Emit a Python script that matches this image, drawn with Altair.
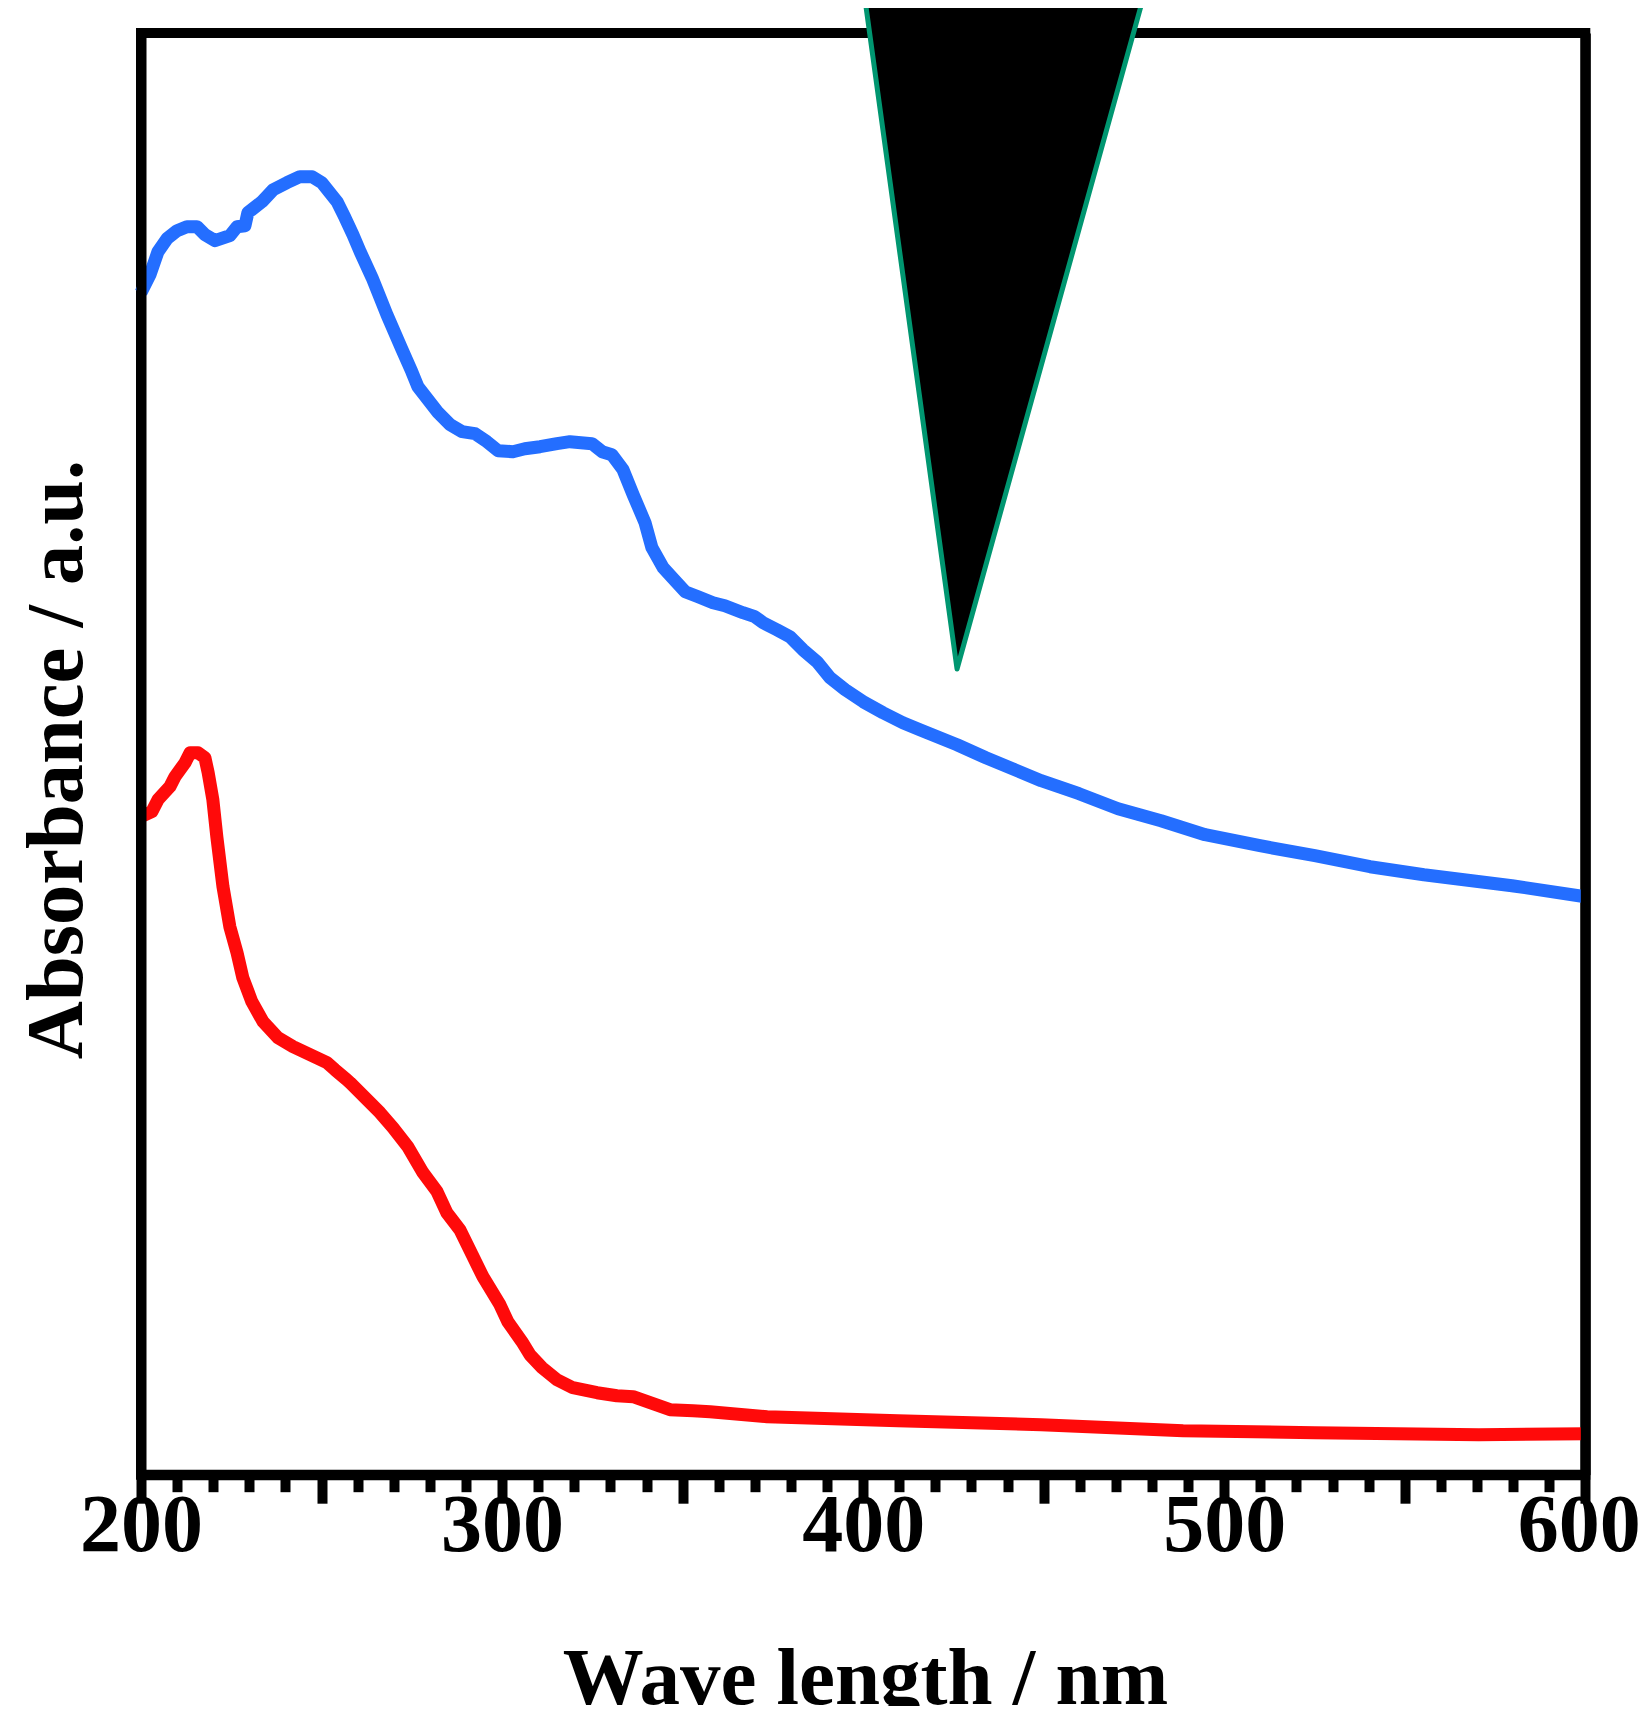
import altair as alt
import pandas as pd

blue_nm = [200, 202.5, 204.7, 207.2, 210, 212.7, 215.5, 217.7, 220.5, 224.6, 226.6, 228.8, 229.6, 233.5, 236.6,
           240.4, 244, 247.4, 250.1, 254.3, 256.5, 258.7, 260.7, 264, 268.1, 272.3, 275, 276.7, 279.5, 282.3,
           285.6, 288.9, 292.5, 295.8, 298.9, 303, 306.3, 310.5, 315.2, 318.8, 324.9, 327.7, 330.4, 333.5, 336.3,
           339.6, 341.5, 344.6, 348.4, 350.7, 354.3, 358.4, 361.7, 366.7, 370, 372.3, 376.1, 379.7, 383.3, 387.2,
           390.8, 395, 400, 405.5, 411, 415.7, 426, 434, 449.3, 459.8, 470.6, 482.5, 494.7, 509.9, 525.1,
           540.4, 555.3, 579.7, 600]
blue_abs = [1182, 1200, 1223, 1236, 1244, 1248, 1248, 1240, 1234, 1239, 1248, 1249, 1262, 1273, 1285,
            1292, 1298, 1298, 1292, 1273, 1257, 1240, 1223, 1197, 1160, 1125, 1103, 1088, 1075, 1062,
            1050, 1043, 1041, 1033, 1024, 1023, 1026, 1028, 1031, 1033, 1031, 1023, 1020, 1005, 980,
            952, 927, 907, 892, 883, 878, 872, 869, 862, 858, 852, 845, 838, 825, 813,
            797, 785, 773, 762, 752, 745, 730, 717, 694, 681, 666, 654, 640, 629, 619,
            608, 600, 589, 578]

red_nm = [200, 203, 204.7, 208, 209.4, 212.2, 213.6, 215.8, 217.7, 218.6, 219.9, 221, 222.7, 224.6, 226.6,
          228.2, 230.7, 233.8, 237.9, 242.1, 246.8, 251.5, 253.7, 257, 257.9, 262.6, 266.2, 269.8, 273.9, 278.1,
          282, 284.7, 288.3, 291.7, 294.7, 299.4, 301.6, 305.5, 307.7, 311.1, 315.2, 319.6, 326.3, 331.8, 336.3,
          341, 346.5, 352.9, 357.6, 373.4, 409.6, 449.3, 488.6, 525.1, 570.5, 600]
red_abs = [658, 663, 675, 688, 698, 712, 722, 722, 717, 702, 675, 638, 588, 548, 522,
           497, 473, 453, 437, 428, 420, 412, 405, 395, 392, 375, 362, 347, 328, 302,
           283, 262, 245, 220, 198, 170, 153, 133, 120, 107, 95, 87, 82, 79, 78,
           72, 65, 64, 63, 58, 54, 50, 44, 42, 40, 41]

wedge_nm = [399, 426, 480.5]
wedge_low = [1515, 805.7, 1515]
wedge_high = [1515, 1515, 1515]

major_ticks = [200, 250, 300, 350, 400, 450, 500, 550, 600]
minor_ticks = [v for v in range(210, 600, 10) if v % 50 != 0]

FONT = "Liberation Serif"
x_scale = alt.Scale(domain=[200, 600], nice=False, zero=False)
y_scale = alt.Scale(domain=[0, 1441.7], nice=False, zero=False)

x_major = alt.Axis(values=major_ticks, tickSize=28.5, tickWidth=10, tickColor="black", domainWidth=10,
                   domainColor="black", grid=False, labelFont=FONT, labelFontWeight="bold", labelFontSize=82,
                   labelColor="black", labelBaseline="alphabetic", labelPadding=47.5, labelOverlap=False,
                   labelFlush=False, labelBound=False, format="d",
                   labelExpr="datum.value % 100 === 0 ? datum.label : ''",
                   labelOffset={"condition": {"test": "datum.value === 600", "value": -6.5}, "value": 0},
                   title="Wave length / nm", titleFont=FONT, titleFontWeight="bold", titleFontSize=81,
                   titleColor="black", titleX=724, titleY=228.5, titleBaseline="alphabetic", zindex=1, orient="bottom")
x_minor = alt.Axis(values=minor_ticks, tickSize=17, tickWidth=10, tickColor="black", domain=False, labels=False,
                   grid=False, title=None, zindex=1, orient="bottom")
y_left = alt.Axis(ticks=False, labels=False, grid=False, domainWidth=10, domainColor="black", zindex=1, orient="left",
                  title="Absorbance / a.u.", titleFont=FONT, titleFontWeight="bold", titleFontSize=80.5,
                  titleColor="black", titleAngle=270, titleX=-60, titleY=726, titleBaseline="alphabetic")
y_right = alt.Axis(ticks=False, labels=False, grid=False, domainWidth=10, domainColor="black", zindex=1,
                   orient="right", title=None)

blue = alt.Chart(pd.DataFrame({"nm": blue_nm, "a": blue_abs})).mark_line(
    color="#246EFF", strokeWidth=13, strokeJoin="round", clip=False
).encode(
    x=alt.X("nm:Q", scale=x_scale, axis=x_major),
    y=alt.Y("a:Q", scale=y_scale, axis=y_left),
    order="nm:Q",
)
red = alt.Chart(pd.DataFrame({"nm": red_nm, "a": red_abs})).mark_line(
    color="#FF0A0A", strokeWidth=13, strokeJoin="round", clip=False
).encode(
    x=alt.X("nm:Q", scale=x_scale, axis=x_minor),
    y=alt.Y("a:Q", scale=y_scale, axis=y_right),
    order="nm:Q",
)
wedge = alt.Chart(pd.DataFrame({"nm": wedge_nm, "lo": wedge_low, "hi": wedge_high})).mark_area(
    color="black", fill="black", stroke="#009670", strokeWidth=5, strokeJoin="round", clip=False, opacity=1
).encode(
    x=alt.X("nm:Q", scale=x_scale, axis=None),
    y=alt.Y("lo:Q", scale=y_scale, axis=None),
    y2="hi:Q",
)

chart = (
    alt.layer(blue, red, wedge)
    .resolve_axis(x="independent", y="independent")
    .properties(
        width=1444.3,
        height=1441.7,
        autosize=alt.AutoSizeParams(type="none"),
        padding={"left": 133, "top": 25, "right": 54.7, "bottom": 231.3},
        background="white",
    )
    .configure_view(stroke="black", strokeWidth=10)
)

chart.save("out.html", embed_options={"renderer": "svg", "actions": False})
